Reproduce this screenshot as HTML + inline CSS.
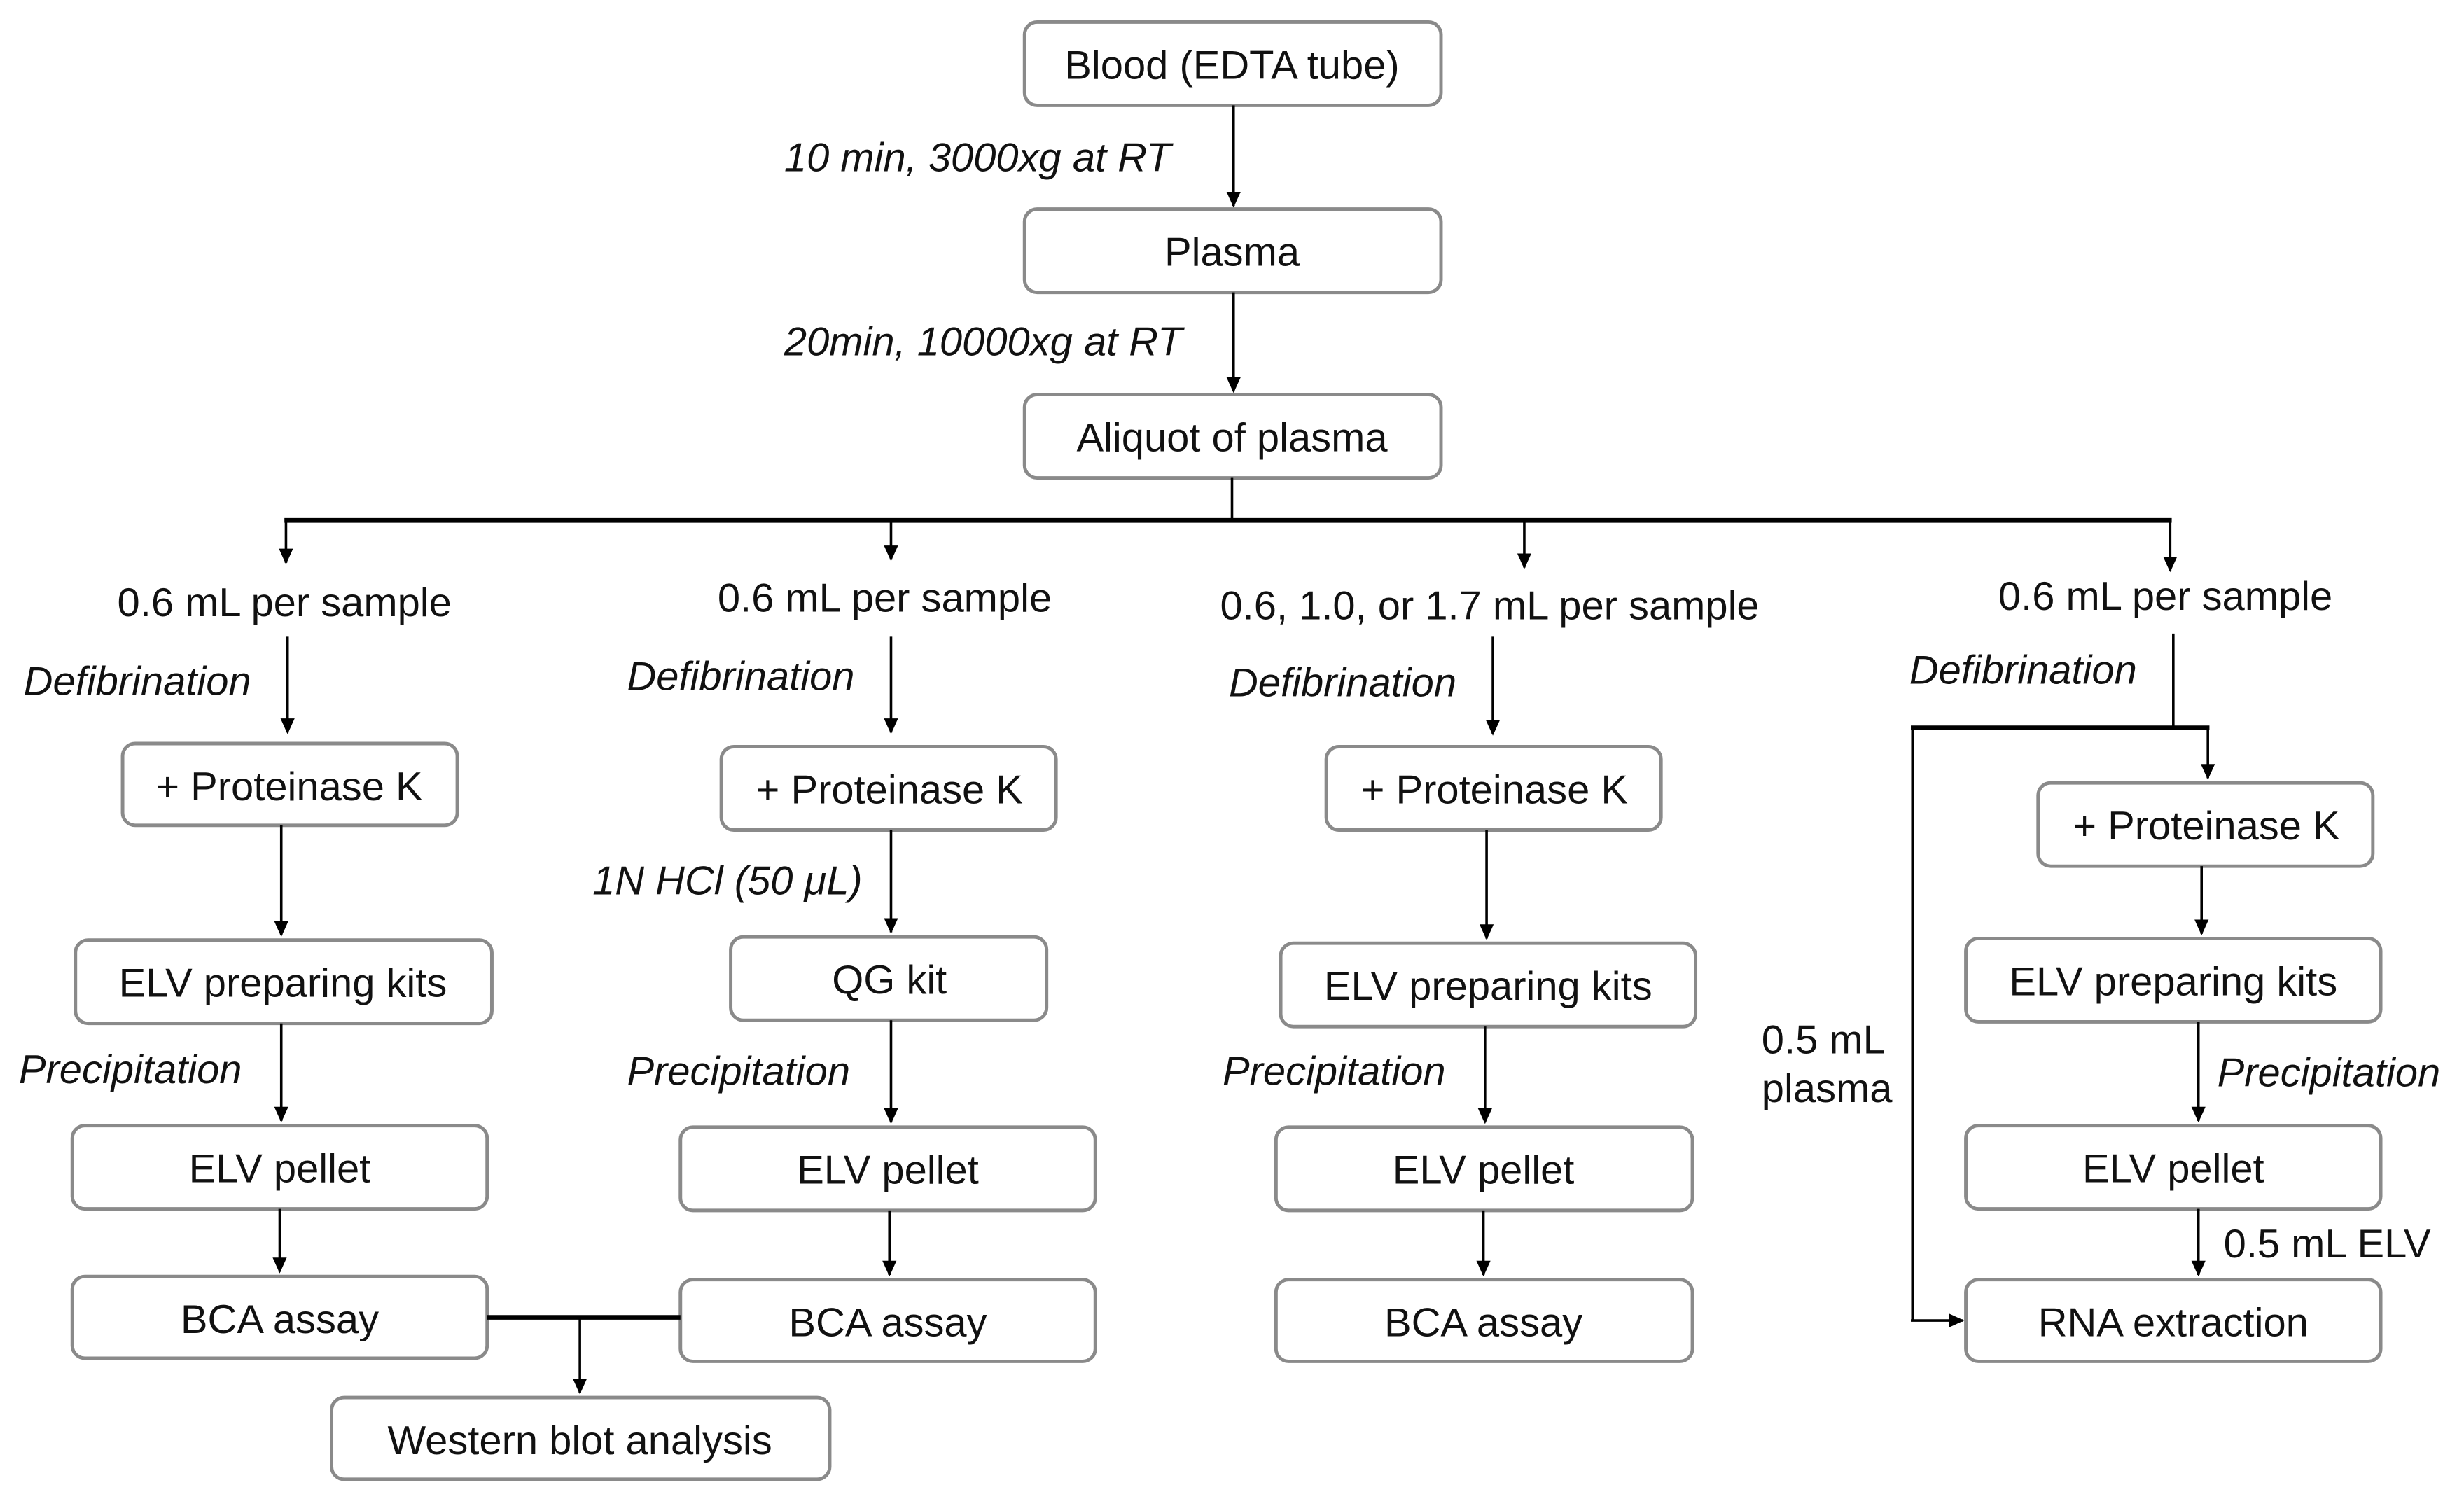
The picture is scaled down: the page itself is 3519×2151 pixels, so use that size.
<!DOCTYPE html>
<html><head><meta charset="utf-8"><style>
html,body{margin:0;padding:0;background:#fff;}
svg{display:block;}
text{font-family:"Liberation Sans",Arial,sans-serif;fill:#111;}
.b{fill:#fff;stroke:#8a8a8a;stroke-width:2.2;}
.t{font-size:25.8px;text-anchor:middle;}
.i{font-size:25.8px;font-style:italic;}
.l{stroke:#000;stroke-width:1.6;fill:none;}
.k{stroke:#000;stroke-width:3;fill:none;}
</style></head><body>
<svg width="3519" height="2151" viewBox="0 0 1568 958" preserveAspectRatio="none" xmlns="http://www.w3.org/2000/svg">
<defs><marker id="a" markerWidth="10" markerHeight="10" refX="9" refY="5" orient="auto" markerUnits="userSpaceOnUse"><path d="M0,0.5 L10,5 L0,9.5 z" fill="#000"/></marker></defs>

<rect class="b" x="652" y="14" width="265" height="53" rx="8"/><text class="t" x="784" y="50">Blood (EDTA tube)</text>
<rect class="b" x="652" y="133" width="265" height="53" rx="8"/><text class="t" x="784" y="169">Plasma</text>
<rect class="b" x="652" y="251" width="265" height="53" rx="8"/><text class="t" x="784" y="287">Aliquot of plasma</text>
<line class="l" x1="785" y1="67" x2="785" y2="131" marker-end="url(#a)"/>
<line class="l" x1="785" y1="186" x2="785" y2="249" marker-end="url(#a)"/>
<text class="i" x="499" y="109">10 min, 3000xg at RT</text>
<text class="i" x="499" y="226">20min, 10000xg at RT</text>
<line class="l" x1="784" y1="304" x2="784" y2="331"/>
<line class="k" x1="181" y1="331" x2="1382" y2="331"/>
<line class="l" x1="182" y1="331" x2="182" y2="358" marker-end="url(#a)"/>
<line class="l" x1="567" y1="331" x2="567" y2="356" marker-end="url(#a)"/>
<line class="l" x1="970" y1="331" x2="970" y2="361" marker-end="url(#a)"/>
<line class="l" x1="1381" y1="331" x2="1381" y2="363" marker-end="url(#a)"/>

<text class="t" x="181" y="392">0.6 mL per sample</text>
<text class="t" x="563" y="389">0.6 mL per sample</text>
<text class="t" x="948" y="394">0.6, 1.0, or 1.7 mL per sample</text>
<text class="t" x="1378" y="388">0.6 mL per sample</text>
<text class="i" x="15" y="442">Defibrination</text>
<text class="i" x="399" y="439">Defibrination</text>
<text class="i" x="782" y="443">Defibrination</text>
<text class="i" x="1215" y="435">Defibrination</text>

<line class="l" x1="183" y1="405" x2="183" y2="466" marker-end="url(#a)"/>
<rect class="b" x="78" y="473" width="213" height="52" rx="8"/><text class="t" x="184" y="509">+ Proteinase K</text>
<line class="l" x1="179" y1="525" x2="179" y2="595" marker-end="url(#a)"/>
<rect class="b" x="48" y="598" width="265" height="53" rx="8"/><text class="t" x="180" y="634">ELV preparing kits</text>
<text class="i" x="12" y="689">Precipitation</text>
<line class="l" x1="179" y1="651" x2="179" y2="713" marker-end="url(#a)"/>
<rect class="b" x="46" y="716" width="264" height="53" rx="8"/><text class="t" x="178" y="752">ELV pellet</text>
<line class="l" x1="178" y1="769" x2="178" y2="809" marker-end="url(#a)"/>
<rect class="b" x="46" y="812" width="264" height="52" rx="8"/><text class="t" x="178" y="848">BCA assay</text>

<line class="l" x1="567" y1="405" x2="567" y2="466" marker-end="url(#a)"/>
<rect class="b" x="459" y="475" width="213" height="53" rx="8"/><text class="t" x="566" y="511">+ Proteinase K</text>
<text class="i" x="377" y="569">1N HCl (50 μL)</text>
<line class="l" x1="567" y1="528" x2="567" y2="593" marker-end="url(#a)"/>
<rect class="b" x="465" y="596" width="201" height="53" rx="8"/><text class="t" x="566" y="632">QG kit</text>
<text class="i" x="399" y="690">Precipitation</text>
<line class="l" x1="567" y1="649" x2="567" y2="714" marker-end="url(#a)"/>
<rect class="b" x="433" y="717" width="264" height="53" rx="8"/><text class="t" x="565" y="753">ELV pellet</text>
<line class="l" x1="566" y1="770" x2="566" y2="811" marker-end="url(#a)"/>
<rect class="b" x="433" y="814" width="264" height="52" rx="8"/><text class="t" x="565" y="850">BCA assay</text>

<line class="k" x1="310" y1="838" x2="433" y2="838"/>
<line class="l" x1="369" y1="838" x2="369" y2="886" marker-end="url(#a)"/>
<rect class="b" x="211" y="889" width="317" height="52" rx="8"/><text class="t" x="369" y="925">Western blot analysis</text>

<line class="l" x1="950" y1="405" x2="950" y2="467" marker-end="url(#a)"/>
<rect class="b" x="844" y="475" width="213" height="53" rx="8"/><text class="t" x="951" y="511">+ Proteinase K</text>
<line class="l" x1="946" y1="528" x2="946" y2="597" marker-end="url(#a)"/>
<rect class="b" x="815" y="600" width="264" height="53" rx="8"/><text class="t" x="947" y="636">ELV preparing kits</text>
<text class="i" x="778" y="690">Precipitation</text>
<line class="l" x1="945" y1="653" x2="945" y2="714" marker-end="url(#a)"/>
<rect class="b" x="812" y="717" width="265" height="53" rx="8"/><text class="t" x="944" y="753">ELV pellet</text>
<line class="l" x1="944" y1="770" x2="944" y2="811" marker-end="url(#a)"/>
<rect class="b" x="812" y="814" width="265" height="52" rx="8"/><text class="t" x="944" y="850">BCA assay</text>

<line class="l" x1="1383" y1="403" x2="1383" y2="463"/>
<line class="k" x1="1216" y1="463" x2="1406" y2="463"/>
<line class="l" x1="1405" y1="463" x2="1405" y2="495" marker-end="url(#a)"/>
<line class="l" x1="1217" y1="463" x2="1217" y2="840"/>
<line class="l" x1="1216" y1="840" x2="1249" y2="840" marker-end="url(#a)"/>
<rect class="b" x="1297" y="498" width="213" height="53" rx="8"/><text class="t" x="1404" y="534">+ Proteinase K</text>
<line class="l" x1="1401" y1="551" x2="1401" y2="594" marker-end="url(#a)"/>
<rect class="b" x="1251" y="597" width="264" height="53" rx="8"/><text class="t" x="1383" y="633">ELV preparing kits</text>
<text class="i" x="1411" y="691">Precipitation</text>
<line class="l" x1="1399" y1="650" x2="1399" y2="713" marker-end="url(#a)"/>
<rect class="b" x="1251" y="716" width="264" height="53" rx="8"/><text class="t" x="1383" y="752">ELV pellet</text>
<text class="t" x="1415" y="800" style="text-anchor:start">0.5 mL ELV</text>
<line class="l" x1="1399" y1="769" x2="1399" y2="811" marker-end="url(#a)"/>
<rect class="b" x="1251" y="814" width="264" height="52" rx="8"/><text class="t" x="1383" y="850">RNA extraction</text>
<text class="t" x="1121" y="670" style="text-anchor:start">0.5 mL</text>
<text class="t" x="1121" y="701" style="text-anchor:start">plasma</text>
</svg>
</body></html>
